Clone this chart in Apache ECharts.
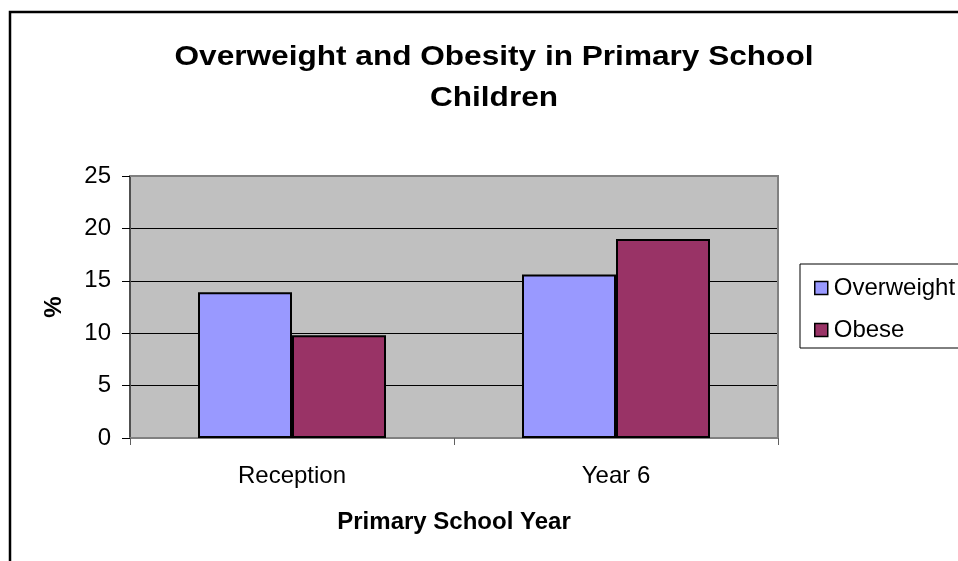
<!DOCTYPE html>
<html>
<head>
<meta charset="utf-8">
<script src="https://cdn.jsdelivr.net/npm/echarts@6/dist/echarts.min.js"></script>
<style>
  html, body { margin: 0; padding: 0; background: #fff; }
  #chart { width: 958px; height: 561px; }
</style>
</head>
<body>
<div id="chart"></div>
<script>
// School years on the category axis
const years = ['Reception', 'Year 6'];
// Prevalence (%) by weight category
const overweight = [13.9, 15.6];
const obese = [9.8, 19.0];
const seriesNames = ['Overweight', 'Obese'];
const titleLines = ['Overweight and Obesity in Primary School', 'Children'];

const FONT = '"Liberation Sans", Arial, sans-serif';

const chart = echarts.init(document.getElementById('chart'), null, { renderer: 'canvas' });

// Title drawn as two wide bold lines
const titleText = (text, y) => ({
  type: 'text',
  x: 494,
  y: y,
  scaleX: 1.17,
  silent: true,
  style: {
    text: text,
    x: 0,
    y: 0,
    align: 'center',
    verticalAlign: 'middle',
    font: 'bold 27px ' + FONT,
    fill: '#000'
  }
});

chart.setOption({
  backgroundColor: '#ffffff',
  animation: false,
  legend: {
    orient: 'vertical',
    left: 809,
    top: 271,
    itemGap: 18,
    itemWidth: 13,
    itemHeight: 13,
    icon: 'rect',
    data: seriesNames,
    textStyle: {
      fontFamily: FONT,
      fontSize: 24,
      color: '#000',
      padding: [0, 0, 0, 1]
    },
    itemStyle: { borderColor: '#000', borderWidth: 1.5 }
  },
  grid: {
    left: 130,
    top: 176,
    width: 648,
    height: 262,
    show: true,
    backgroundColor: '#c0c0c0',
    borderColor: '#808080',
    borderWidth: 0
  },
  xAxis: {
    type: 'category',
    data: years,
    name: 'Primary School Year',
    nameLocation: 'middle',
    nameGap: 72,
    nameTextStyle: { fontFamily: FONT, fontSize: 24, fontWeight: 'bold', color: '#000' },
    axisLine: { show: true, lineStyle: { color: '#808080', width: 2 } },
    axisTick: { show: true, length: 7, lineStyle: { color: '#606060', width: 1 } },
    axisLabel: { fontFamily: FONT, fontSize: 24, color: '#000', margin: 26 }
  },
  yAxis: {
    type: 'value',
    min: 0,
    max: 25,
    interval: 5,
    name: '%',
    nameLocation: 'middle',
    nameGap: 64,
    nameRotate: 90,
    nameTextStyle: { fontFamily: FONT, fontSize: 24, fontWeight: 'bold', color: '#000' },
    axisLine: { show: true, lineStyle: { color: '#505050', width: 2 } },
    axisTick: { show: true, inside: false, length: 8, lineStyle: { color: '#000', width: 1 } },
    axisLabel: { fontFamily: FONT, fontSize: 24, color: '#000', margin: 19 },
    splitLine: { show: true, lineStyle: { color: '#000', width: 1 } }
  },
  series: [
    {
      name: seriesNames[0],
      type: 'bar',
      data: overweight,
      barWidth: 94,
      barGap: '0%',
      itemStyle: { color: '#9999ff', borderColor: '#000', borderWidth: 2 }
    },
    {
      name: seriesNames[1],
      type: 'bar',
      data: obese,
      barWidth: 94,
      barGap: '0%',
      itemStyle: { color: '#993366', borderColor: '#000', borderWidth: 2 }
    }
  ],
  graphic: [
    titleText(titleLines[0], 58),
    titleText(titleLines[1], 99),
    // outer chart frame
    {
      type: 'rect',
      shape: { x: 10, y: 12, width: 980, height: 600 },
      style: { fill: 'none', stroke: '#000', lineWidth: 2.5 },
      silent: true
    },
    // right and top edges of the plot area
    {
      type: 'polyline',
      shape: { points: [[130, 176], [778, 176], [778, 438]] },
      style: { stroke: '#808080', lineWidth: 2, fill: 'none' },
      silent: true,
      z: 5
    },
    // legend box
    {
      type: 'rect',
      shape: { x: 800, y: 264, width: 200, height: 84 },
      style: { fill: '#fff', stroke: '#000', lineWidth: 1 },
      silent: true,
      z: -1
    }
  ]
});
</script>
</body>
</html>
